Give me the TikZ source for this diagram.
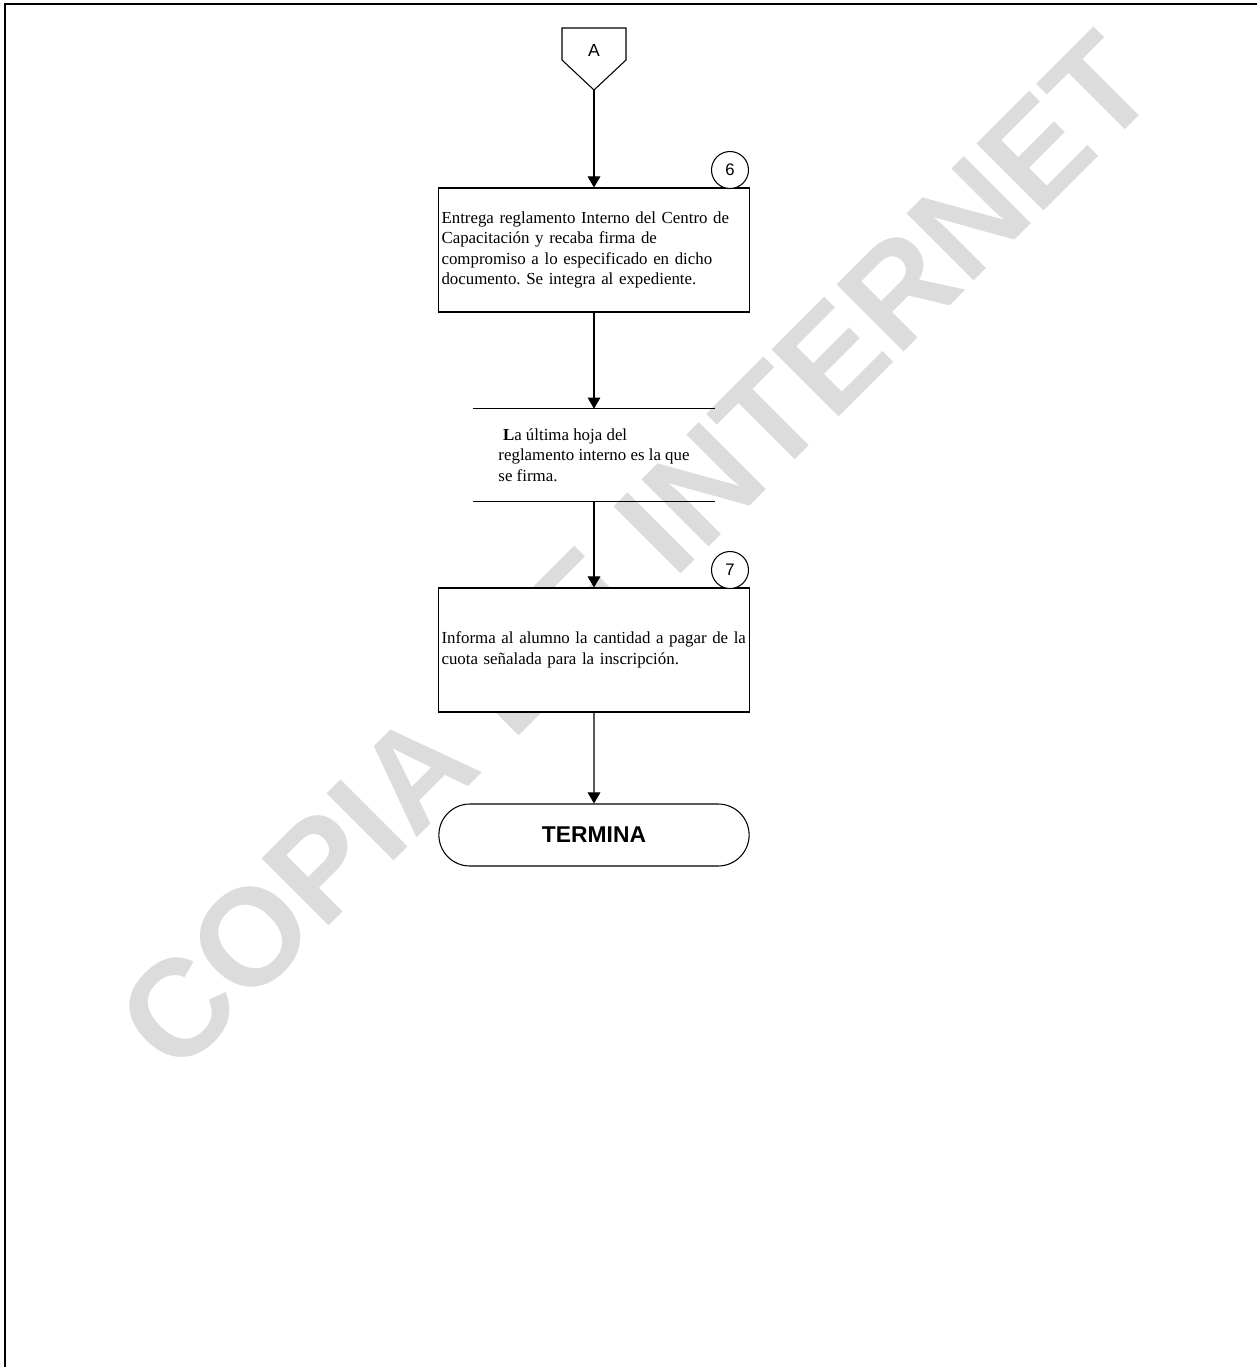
\documentclass[tikz,border=0pt]{standalone}
\usepackage{fontspec}
\setmainfont{Liberation Serif}
\setsansfont{Liberation Sans}
\usepackage{tikz}
\usetikzlibrary{
  shapes.geometric,
  shapes.misc,
  arrows.meta,
  positioning
}
\definecolor{marcagris}{RGB}{220,220,220}
\frenchspacing

\begin{document}
\begin{tikzpicture}[
  x=0.02cm, y=-0.02cm,
  every node/.style={font=\fontsize{9.6}{11.7}\selectfont},
  flow/.style={-{Triangle[length=6.3pt,width=7.2pt]}, line width=0.6pt},
  activity/.style={draw, fill=white, line width=0.6pt,
                   minimum width=6.22cm, minimum height=2.48cm,
                   inner xsep=0.04cm, text width=6.1cm, align=left},
  number/.style={circle, draw, fill=white, line width=0.6pt,
                 minimum size=0.74cm, inner sep=0pt,
                 font=\sffamily\fontsize{9.5}{11}\selectfont},
  note/.style={minimum width=4.84cm, minimum height=1.84cm, align=left},
  endbox/.style={rounded rectangle, draw, fill=white, line width=0.6pt,
                 minimum width=6.44cm, minimum height=1.24cm,
                 font=\sffamily\bfseries\fontsize{13}{15}\selectfont},
  watermark/.style={text=marcagris,
                    font=\sffamily\bfseries\fontsize{78.5}{80}\selectfont}
]
\useasboundingbox (0,0) rectangle (1257,1367);

% Watermark behind the chart
\node[watermark, rotate=45] (marca) at (636,552) {COPIA DE INTERNET};

% Page frame
\draw[line width=1.2pt] (5,1367) -- (5,4) -- (1257,4);

% Off-page connector
\draw[line width=0.6pt] (562,28) -- (626,28) -- (626,60) -- (594,90)
  -- (562,60) -- cycle;
\coordinate (offtip) at (594,90);
\node[font=\sffamily\fontsize{10}{12}\selectfont] (offA) at (594,50) {A};

% Activities
\node[activity] (act6) at (594,250) {Entrega reglamento Interno del Centro de\\
  Capacitación y recaba firma de\\
  compromiso a lo especificado en dicho\\
  documento. Se integra al expediente.};
\node[activity] (act7) at (594,650) {Informa al alumno la cantidad a pagar de la\\
  cuota señalada para la inscripción.};

% Step numbers
\node[number] (n6) at (730,170) {6};
\node[number] (n7) at (730,570) {7};

% Note between two rules
\node[note] (nota) at (594,455) {\hspace*{2.6pt}\textbf{L}a última hoja del\\
  reglamento interno es la que\\
  se firma.};
\draw[line width=0.6pt] (nota.north west) -- (nota.north east);
\draw[line width=0.6pt] (nota.south west) -- (nota.south east);

% End
\node[endbox] (fin) at (594,835) {TERMINA};

% Connectors
\draw[flow] (offtip) -- (act6);
\draw[flow] (act6) -- (nota);
\draw[flow] (nota) -- (act7);
\draw[flow] (act7) -- (fin);
\end{tikzpicture}
\end{document}
